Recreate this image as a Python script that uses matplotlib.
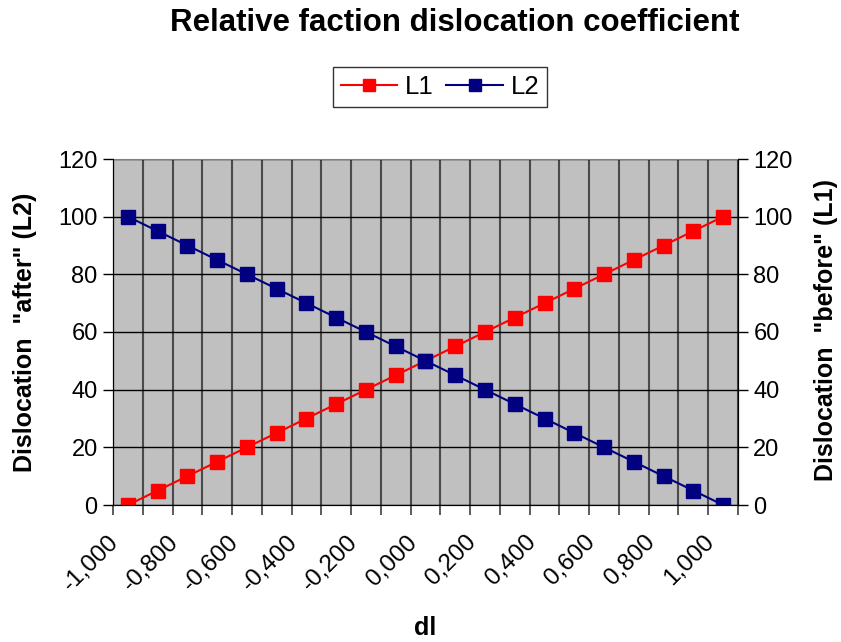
import matplotlib
matplotlib.use('Agg')
import matplotlib.pyplot as plt
import matplotlib.transforms as mtransforms
import numpy as np

plt.rcParams['font.family'] = ['Liberation Sans', 'DejaVu Sans']

# data
dl_labels = ['-1,000', '-0,900', '-0,800', '-0,700', '-0,600', '-0,500', '-0,400',
             '-0,300', '-0,200', '-0,100', '0,000', '0,100', '0,200', '0,300',
             '0,400', '0,500', '0,600', '0,700', '0,800', '0,900', '1,000']
l1 = [0, 5, 10, 15, 20, 25, 30, 35, 40, 45, 50, 55, 60, 65, 70, 75, 80, 85, 90, 95, 100]
l2 = [100, 95, 90, 85, 80, 75, 70, 65, 60, 55, 50, 45, 40, 35, 30, 25, 20, 15, 10, 5, 0]

fig = plt.figure(figsize=(8.41, 6.42), dpi=100)
ax = fig.add_axes([113/841, 1-505/642, 625/841, 346/642])
ax.set_facecolor('#C0C0C0')

x = np.arange(len(dl_labels))
ax.plot(x, l1, color='#FF0000', lw=1.5, marker='s', ms=10, mec='#FF0000', label='L1', zorder=3)
ax.plot(x, l2, color='#000080', lw=1.5, marker='s', ms=10, mec='#000080', label='L2', zorder=3)

ax.set_xlim(-0.5, len(dl_labels) - 0.5)
ax.set_ylim(0, 120)
ax.set_yticks(range(0, 121, 20))

# category boundaries for grid / ticks
ax.set_xticks(np.arange(-0.5, len(dl_labels), 1), minor=True)
ax.set_xticks(x[::2])
ax.set_xticklabels(dl_labels[::2], rotation=45, ha='right', va='center', rotation_mode='anchor')
ax.tick_params(axis='x', which='major', length=0, labelsize=17.5, pad=0)
ax.tick_params(axis='x', which='minor', length=7, width=1.2, color='#404040')
ax.tick_params(axis='y', length=7, width=1, labelsize=17, pad=4)
ax.grid(axis='x', which='minor', color='#4a4a4a', lw=1.5)
ax.grid(axis='y', which='major', color='black', lw=1)
ax.set_axisbelow(True)

offset = mtransforms.ScaledTranslation(-12/100, -34/100, fig.dpi_scale_trans)
for lab in ax.get_xticklabels():
    lab.set_transform(lab.get_transform() + offset)

ax.spines['top'].set_color('#808080')
ax.spines['bottom'].set_color('#404040')

ax2 = ax.twinx()
ax2.set_ylim(0, 120)
ax2.set_yticks(range(0, 121, 20))
ax2.tick_params(axis='y', length=7, width=1, labelsize=17, pad=4)
ax2.spines['top'].set_visible(False)

fig.text(25/841, 1 - 332/642, 'Dislocation  "after" (L2)', rotation=90, ha='center', va='center',
         fontsize=18, fontweight='bold')
fig.text(826/841, 1 - 330/642, 'Dislocation  "before" (L1)', rotation=90, ha='center', va='center',
         fontsize=18, fontweight='bold')
fig.text(425/841, 1 - 628/642, 'dl', ha='center', va='center', fontsize=18, fontweight='bold')

fig.text(455/841, 1 - 23/642, 'Relative faction dislocation coefficient', ha='center', va='center',
         fontsize=22.5, fontweight='bold')

leg = fig.legend(loc='center', bbox_to_anchor=(440/841, 1 - 87/642), ncol=2, fontsize=18.5,
                 frameon=True, fancybox=False, edgecolor='black', handlelength=2.2,
                 columnspacing=0.5, handletextpad=0.3, borderpad=0.3, markerscale=0.8)
leg.get_frame().set_linewidth(1)

fig.savefig('out.png', dpi=100)
